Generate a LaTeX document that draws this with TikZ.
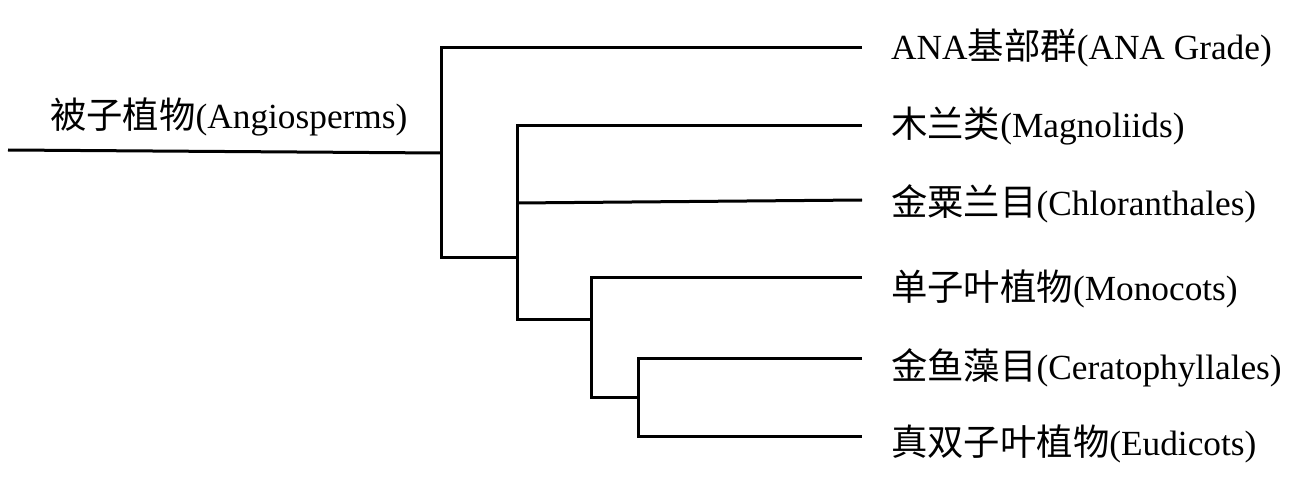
\documentclass[tikz,border=0pt]{standalone}
\usepackage{fontspec}
\setmainfont{Liberation Serif}
\newfontfamily\cjk[Scale=1.03]{Noto Sans CJK SC}
\begin{document}
\begin{tikzpicture}[x=1pt,y=-1pt,
  branch/.style={line width=3pt,line join=miter,black},
  taxon/.style={anchor=base west,inner sep=0pt,font=\fontsize{35.3}{40}\selectfont}]
\useasboundingbox (0,0) rectangle (1294,489);
% end points of the leaves
\coordinate (A) at (862,48);
\coordinate (B) at (862,126);
\coordinate (C) at (862,200);
\coordinate (D) at (862,278);
\coordinate (E) at (862,358);
\coordinate (F) at (862,436);
% internal nodes
\coordinate (R) at (8,150);
\coordinate (N1) at (441,153);
\coordinate (N2) at (517,258);
\coordinate (C0) at (517,203);
\coordinate (N3) at (591,319);
\coordinate (N4) at (638,397);
% branches
\draw[branch] (R) -- (N1);
\draw[branch] (A) -| (N1) |- (N2);
\draw[branch] (B) -| (N2) |- (N3);
\draw[branch] (C0) -- (C);
\draw[branch] (D) -| (N3) |- (N4);
\draw[branch] (E) -| (N4) |- (F);
% labels
\node[taxon] (tR) at (50,129) {{\cjk 被子植物}(Angiosperms)};
\node[taxon] (tA) at (891,60) {ANA{\cjk 基部群}(ANA Grade)};
\node[taxon] (tB) at (891,138) {{\cjk 木兰类}(Magnoliids)};
\node[taxon] (tC) at (891,216) {{\cjk 金粟兰目}(Chloranthales)};
\node[taxon] (tD) at (891,301) {{\cjk 单子叶植物}(Monocots)};
\node[taxon] (tE) at (891,379) {{\cjk 金鱼藻目}(Ceratophyllales)};
\node[taxon] (tF) at (891,455) {{\cjk 真双子叶植物}(Eudicots)};
\end{tikzpicture}
\end{document}
